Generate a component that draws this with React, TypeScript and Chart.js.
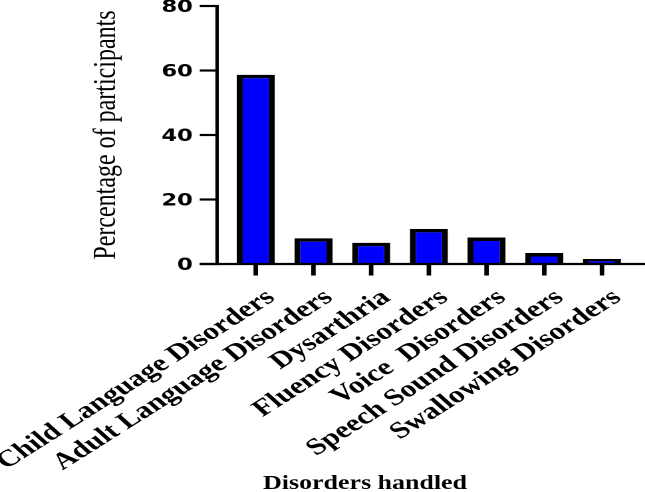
import React, { useEffect, useRef } from 'react';
import { Chart, registerables } from 'chart.js';

Chart.register(...registerables);

const categories = [
  'Child Language Disorders',
  'Adult Language Disorders',
  'Dysarthria',
  'Fluency Disorders',
  'Voice  Disorders',
  'Speech Sound Disorders',
  'Swallowing Disorders',
];
const percentages = [58.7, 8.0, 6.6, 10.9, 8.2, 3.4, 1.6];
const yTicks = [0, 20, 40, 60, 80];
const yTitle = 'Percentage of participants';
const xTitle = 'Disorders handled';

const SX = 1.33;
const W = 645 / SX;
const H = 492;
const LABEL_ANGLE = (40 * Math.PI) / 180;

const axesPlugin = {
  id: 'axesDraw',
  afterDatasetsDraw(chart: any) {
    const { ctx, chartArea, scales } = chart;
    const x = scales.x;
    const y = scales.y;
    const axisX = chartArea.left - 7.4;
    const y0 = y.getPixelForValue(0);
    const yTop = y.getPixelForValue(yTicks[yTicks.length - 1]);
    ctx.save();
    ctx.strokeStyle = '#000';
    ctx.lineCap = 'butt';
    ctx.lineWidth = 2.6;
    ctx.beginPath();
    ctx.moveTo(axisX, yTop - 1);
    ctx.lineTo(axisX, y0);
    ctx.stroke();
    ctx.lineWidth = 2.2;
    for (const v of yTicks) {
      const py = y.getPixelForValue(v);
      ctx.beginPath();
      ctx.moveTo(axisX - 13, py);
      ctx.lineTo(axisX + 1.3, py);
      ctx.stroke();
    }
    ctx.beginPath();
    ctx.moveTo(axisX - 13, y0);
    ctx.lineTo(chart.width, y0);
    ctx.stroke();
    ctx.lineWidth = 3.4;
    categories.forEach((_, i) => {
      const px = x.getPixelForValue(i);
      ctx.beginPath();
      ctx.moveTo(px, y0);
      ctx.lineTo(px, y0 + 11.5);
      ctx.stroke();
    });
    ctx.fillStyle = '#000';
    ctx.font = 'bold 23.5px "Liberation Serif"';
    ctx.textAlign = 'right';
    ctx.textBaseline = 'alphabetic';
    categories.forEach((c, i) => {
      const px = x.getPixelForValue(i);
      ctx.save();
      ctx.translate(px + 15.4, y0 + 35.3);
      ctx.rotate(-LABEL_ANGLE);
      ctx.fillText(c, 0, 0);
      ctx.restore();
    });
    ctx.font = 'bold 19.5px "Liberation Serif"';
    ctx.textAlign = 'center';
    ctx.fillText(xTitle, (chartArea.left + chartArea.right) / 2 - 48, 489);
    ctx.restore();
  },
};

export default function App() {
  const ref = useRef<HTMLCanvasElement | null>(null);
  useEffect(() => {
    if (!ref.current) return;
    const chart = new Chart(ref.current, {
      type: 'bar',
      data: {
        labels: categories,
        datasets: [
          {
            data: percentages,
            backgroundColor: '#0000ff',
            borderColor: '#000000',
            borderWidth: { top: 3.5, left: 4.5, right: 4.5, bottom: 0 },
            borderSkipped: false,
            barPercentage: 0.66,
            categoryPercentage: 1,
          },
        ],
      },
      options: {
        animation: false,
        responsive: true,
        maintainAspectRatio: false,
        devicePixelRatio: 2,
        layout: { padding: { top: 6, right: 10.7, left: 0, bottom: 0 } },
        plugins: { legend: { display: false }, tooltip: { enabled: false } },
        scales: {
          x: {
            grid: { display: false },
            border: { display: false },
            ticks: { display: false },
            afterFit: (s: any) => {
              s.height = H - 264;
            },
          },
          y: {
            min: 0,
            max: 80,
            afterBuildTicks: (s: any) => {
              s.ticks = yTicks.map((v) => ({ value: v }));
            },
            grid: { display: false, drawTicks: false },
            border: { display: false },
            ticks: {
              font: { family: 'DejaVu Sans', weight: 'bold', size: 17 },
              color: '#000',
              padding: 25.6,
              labelOffset: 1.5,
            },
            title: {
              display: true,
              text: yTitle,
              font: { family: 'Liberation Serif', size: 24 },
              color: '#000',
              padding: { top: 65.6, bottom: 0 },
            },
            afterFit: (s: any) => {
              s.width = 170.6;
              s.paddingTop = 0;
              s.paddingBottom = 0;
            },
          },
        },
      },
      plugins: [axesPlugin],
    } as any);
    return () => chart.destroy();
  }, []);
  return (
    <div
      style={{
        position: 'absolute',
        left: 0,
        top: 0,
        width: W,
        height: H,
        transform: `scaleX(${SX})`,
        transformOrigin: '0 0',
      }}
    >
      <canvas ref={ref} />
    </div>
  );
}
